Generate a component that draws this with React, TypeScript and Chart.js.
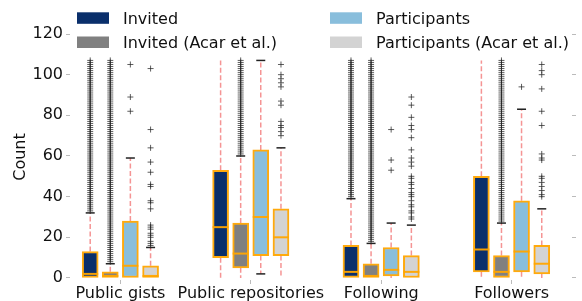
import React, { useEffect, useRef } from 'react';
import { Chart, registerables } from 'chart.js';

Chart.register(...registerables);

const categories = ['Public gists', 'Public repositories', 'Following', 'Followers'];
const seriesNames = ['Invited', 'Invited (Acar et al.)', 'Participants', 'Participants (Acar et al.)'];
const seriesColors = ['#0a2f6b', '#808080', '#89bedc', '#d3d3d3'];
const yTicks = [0, 20, 40, 60, 80, 100, 120];

// Invited
const invitedQ1 = [0, 10, 0, 3];
const invitedMedian = [2, 25, 3, 14];
const invitedQ3 = [13, 53, 16, 50];
const invitedWhiskerLow = [0, 0, 0, 0];
const invitedWhiskerHigh = [32, 107, 39, 107];
const invitedCapHigh = [32, null, 39, null];
const invitedCapLow = [null, null, null, null];
const invitedOutliersGists = [
  33, 34, 35, 36, 37, 38, 39, 40, 41, 42, 43, 44, 45, 46, 47, 48, 49, 50, 51, 52,
  53, 54, 55, 56, 57, 58, 59, 60, 61, 62, 63, 64, 65, 66, 67, 68, 69, 70, 71, 72,
  73, 74, 75, 76, 77, 78, 79, 80, 81, 82, 83, 84, 85, 86, 87, 88, 89, 90, 91, 92,
  93, 94, 95, 96, 97, 98, 99, 100, 101, 102, 103, 104, 105, 106, 107,
];
const invitedOutliersRepos: number[] = [];
const invitedOutliersFollowing = [
  40, 41, 42, 43, 44, 45, 46, 47, 48, 49, 50, 51, 52, 53, 54, 55, 56, 57, 58, 59,
  60, 61, 62, 63, 64, 65, 66, 67, 68, 69, 70, 71, 72, 73, 74, 75, 76, 77, 78, 79,
  80, 81, 82, 83, 84, 85, 86, 87, 88, 89, 90, 91, 92, 93, 94, 95, 96, 97, 98, 99,
  100, 101, 102, 103, 104, 105, 106, 107,
];
const invitedOutliersFollowers: number[] = [];

// Invited (Acar et al.)
const acarInvitedQ1 = [0, 5, 0, 0];
const acarInvitedMedian = [1, 12, 1, 3];
const acarInvitedQ3 = [3, 27, 7, 11];
const acarInvitedWhiskerLow = [0, 0, 0, 0];
const acarInvitedWhiskerHigh = [7, 60, 17, 27];
const acarInvitedCapHigh = [7, 60, 17, 27];
const acarInvitedCapLow = [null, null, null, null];
const acarInvitedOutliersGists = [
  8, 9, 10, 11, 12, 13, 14, 15, 16, 17, 18, 19, 20, 21, 22, 23, 24, 25, 26, 27,
  28, 29, 30, 31, 32, 33, 34, 35, 36, 37, 38, 39, 40, 41, 42, 43, 44, 45, 46, 47,
  48, 49, 50, 51, 52, 53, 54, 55, 56, 57, 58, 59, 60, 61, 62, 63, 64, 65, 66, 67,
  68, 69, 70, 71, 72, 73, 74, 75, 76, 77, 78, 79, 80, 81, 82, 83, 84, 85, 86, 87,
  88, 89, 90, 91, 92, 93, 94, 95, 96, 97, 98, 99, 100, 101, 102, 103, 104, 105, 106, 107,
];
const acarInvitedOutliersRepos = [
  61, 62, 63, 64, 65, 66, 67, 68, 69, 70, 71, 72, 73, 74, 75, 76, 77, 78, 79, 80,
  81, 82, 83, 84, 85, 86, 87, 88, 89, 90, 91, 92, 93, 94, 95, 96, 97, 98, 99, 100,
  101, 102, 103, 104, 105, 106, 107,
];
const acarInvitedOutliersFollowing = [
  18, 19, 20, 21, 22, 23, 24, 25, 26, 27, 28, 29, 30, 31, 32, 33, 34, 35, 36, 37,
  38, 39, 40, 41, 42, 43, 44, 45, 46, 47, 48, 49, 50, 51, 52, 53, 54, 55, 56, 57,
  58, 59, 60, 61, 62, 63, 64, 65, 66, 67, 68, 69, 70, 71, 72, 73, 74, 75, 76, 77,
  78, 79, 80, 81, 82, 83, 84, 85, 86, 87, 88, 89, 90, 91, 92, 93, 94, 95, 96, 97,
  98, 99, 100, 101, 102, 103, 104, 105, 106, 107,
];
const acarInvitedOutliersFollowers = [
  28, 29, 30, 31, 32, 33, 34, 35, 36, 37, 38, 39, 40, 41, 42, 43, 44, 45, 46, 47,
  48, 49, 50, 51, 52, 53, 54, 55, 56, 57, 58, 59, 60, 61, 62, 63, 64, 65, 66, 67,
  68, 69, 70, 71, 72, 73, 74, 75, 76, 77, 78, 79, 80, 81, 82, 83, 84, 85, 86, 87,
  88, 89, 90, 91, 92, 93, 94, 95, 96, 97, 98, 99, 100, 101, 102, 103, 104, 105, 106, 107,
];

// Participants
const participantsQ1 = [0, 11, 1, 3];
const participantsMedian = [6, 30, 4, 13];
const participantsQ3 = [28, 63, 15, 38];
const participantsWhiskerLow = [0, 2, 0, 0];
const participantsWhiskerHigh = [59, 107, 27, 83];
const participantsCapHigh = [59, 107, 27, 83];
const participantsCapLow = [null, 2, null, null];
const participantsOutliersGists = [82, 89, 105];
const participantsOutliersRepos: number[] = [];
const participantsOutliersFollowing = [53, 58, 73];
const participantsOutliersFollowers = [94];

// Participants (Acar et al.)
const acarParticipantsQ1 = [0, 11, 0, 2];
const acarParticipantsMedian = [1, 20, 3, 7];
const acarParticipantsQ3 = [6, 34, 11, 16];
const acarParticipantsWhiskerLow = [0, 0, 0, 0];
const acarParticipantsWhiskerHigh = [15, 64, 26, 34];
const acarParticipantsCapHigh = [15, 64, 26, 34];
const acarParticipantsCapLow = [null, null, null, null];
const acarParticipantsOutliersGists = [16, 17, 18, 20, 21, 22, 24, 25, 26, 34, 37, 38, 45, 46, 52, 57, 64, 73, 103];
const acarParticipantsOutliersRepos = [70, 72, 74, 75, 77, 85, 87, 94, 96, 98, 100, 105];
const acarParticipantsOutliersFollowing = [
  29, 30, 32, 33, 35, 36, 38, 40, 41, 42, 44, 46, 47, 49, 50, 55, 57, 59, 63, 69, 73, 75, 79, 85, 89,
];
const acarParticipantsOutliersFollowers = [40, 41, 43, 45, 47, 49, 50, 58, 59, 61, 75, 82, 93, 100, 102, 105];

type Box = {
  q1: number[]; med: number[]; q3: number[]; wLo: number[]; wHi: number[];
  capHi: (number | null)[]; capLo: (number | null)[]; outliers: number[][];
};

const series: Box[] = [
  {
    q1: invitedQ1, med: invitedMedian, q3: invitedQ3, wLo: invitedWhiskerLow, wHi: invitedWhiskerHigh,
    capHi: invitedCapHigh, capLo: invitedCapLow,
    outliers: [invitedOutliersGists, invitedOutliersRepos, invitedOutliersFollowing, invitedOutliersFollowers],
  },
  {
    q1: acarInvitedQ1, med: acarInvitedMedian, q3: acarInvitedQ3, wLo: acarInvitedWhiskerLow, wHi: acarInvitedWhiskerHigh,
    capHi: acarInvitedCapHigh, capLo: acarInvitedCapLow,
    outliers: [acarInvitedOutliersGists, acarInvitedOutliersRepos, acarInvitedOutliersFollowing, acarInvitedOutliersFollowers],
  },
  {
    q1: participantsQ1, med: participantsMedian, q3: participantsQ3, wLo: participantsWhiskerLow, wHi: participantsWhiskerHigh,
    capHi: participantsCapHigh, capLo: participantsCapLow,
    outliers: [participantsOutliersGists, participantsOutliersRepos, participantsOutliersFollowing, participantsOutliersFollowers],
  },
  {
    q1: acarParticipantsQ1, med: acarParticipantsMedian, q3: acarParticipantsQ3, wLo: acarParticipantsWhiskerLow, wHi: acarParticipantsWhiskerHigh,
    capHi: acarParticipantsCapHigh, capLo: acarParticipantsCapLow,
    outliers: [acarParticipantsOutliersGists, acarParticipantsOutliersRepos, acarParticipantsOutliersFollowing, acarParticipantsOutliersFollowers],
  },
];

// layout constants
const OFFSETS = [-0.232, -0.078, 0.076, 0.231];
const BOX_EDGE = 'rgba(255,165,0,0.95)';
const LEGEND_X = [77, 330];
const LEGEND_Y = [12.3, 36.5];

const legendPlugin = {
  id: 'boxLegend',
  afterDraw(chart: any) {
    const ctx = chart.ctx;
    ctx.save();
    ctx.font = '16px "DejaVu Sans", sans-serif';
    ctx.textBaseline = 'alphabetic';
    ctx.textAlign = 'left';
    seriesNames.forEach((name, i) => {
      const col = Math.floor(i / 2);
      const row = i % 2;
      const x = LEGEND_X[col];
      const y = LEGEND_Y[row];
      ctx.fillStyle = seriesColors[i];
      ctx.fillRect(x, y, 32, 11.5);
      ctx.fillStyle = '#111';
      ctx.fillText(name, x + 46, y + 11.7);
    });
    ctx.restore();
  },
};

export default function App() {
  const canvasRef = useRef<HTMLCanvasElement | null>(null);

  useEffect(() => {
    if (!canvasRef.current) return;
    Chart.defaults.font.family = '"DejaVu Sans", sans-serif';
    Chart.defaults.font.size = 16;

    const datasets: any[] = [];
    series.forEach((s, si) => {
      const pos = (ci: number) => ci + 1 + OFFSETS[si];
      datasets.push({
        type: 'bar',
        label: seriesNames[si],
        data: categories.map((_, ci) => ({ x: pos(ci), y: [s.q1[ci], s.q3[ci]] })),
        backgroundColor: seriesColors[si],
        borderColor: BOX_EDGE,
        borderWidth: 2,
        borderSkipped: false,
        barThickness: 16,
        grouped: false,
        order: 3,
      });
      const wdata: any[] = [];
      categories.forEach((_, ci) => {
        if (s.wHi[ci] > s.q3[ci]) {
          wdata.push({ x: pos(ci), y: s.q3[ci] }, { x: pos(ci), y: s.wHi[ci] }, { x: pos(ci), y: null });
        }
        if (s.wLo[ci] < s.q1[ci]) {
          wdata.push({ x: pos(ci), y: s.q1[ci] }, { x: pos(ci), y: s.wLo[ci] }, { x: pos(ci), y: null });
        }
      });
      datasets.push({
        type: 'line',
        data: wdata,
        borderColor: 'rgba(240,90,90,0.65)',
        borderWidth: 1.5,
        borderDash: [5, 2.5],
        pointRadius: 0,
        spanGaps: false,
        fill: false,
        tension: 0,
        order: 4,
      });
      const cdata: any[] = [];
      categories.forEach((_, ci) => {
        if (s.capHi[ci] != null) cdata.push({ x: pos(ci), y: s.capHi[ci] });
        if (s.capLo[ci] != null) cdata.push({ x: pos(ci), y: s.capLo[ci] });
      });
      datasets.push({
        type: 'scatter',
        data: cdata,
        pointStyle: 'line',
        pointRadius: 4.5,
        borderColor: '#222',
        backgroundColor: '#222',
        borderWidth: 1.5,
        order: 2,
      });
      datasets.push({
        type: 'scatter',
        data: categories.map((_, ci) => ({ x: pos(ci), y: s.med[ci] })),
        pointStyle: 'line',
        pointRadius: 8,
        borderColor: BOX_EDGE,
        backgroundColor: BOX_EDGE,
        borderWidth: 2,
        order: 1,
      });
      const odata: any[] = [];
      s.outliers.forEach((arr, ci) => arr.forEach((v) => odata.push({ x: pos(ci), y: v })));
      datasets.push({
        type: 'scatter',
        data: odata,
        pointStyle: 'cross',
        pointRadius: 3,
        borderColor: 'rgba(40,40,40,0.75)',
        backgroundColor: 'rgba(40,40,40,0.75)',
        borderWidth: 1,
        order: 2,
      });
    });

    const tickGrid = { drawOnChartArea: false, drawTicks: true, tickLength: 4, tickColor: '#bbbbbb', offset: false };

    const chart = new Chart(canvasRef.current, {
      type: 'bar',
      data: { datasets },
      options: {
        responsive: false,
        animation: false,
        events: [],
        layout: { padding: { top: 34, left: 0, right: 0, bottom: 0 } },
        plugins: { legend: { display: false }, tooltip: { enabled: false } },
        scales: {
          x: {
            type: 'linear',
            position: 'bottom',
            min: 0.613,
            max: 4.463,
            offset: false,
            afterBuildTicks: (sc: any) => {
              sc.ticks = categories.map((_, i) => ({ value: i + 1 }));
            },
            afterFit: (sc: any) => {
              sc.height = 21;
            },
            ticks: {
              autoSkip: false,
              maxRotation: 0,
              minRotation: 0,
              padding: 0,
              color: '#111',
              font: { size: 16 },
              callback: (_v: any, i: number) => categories[i],
            },
            grid: tickGrid,
            border: { display: false },
          },
          y: {
            type: 'linear',
            position: 'left',
            min: -1,
            max: 120,
            afterBuildTicks: (sc: any) => {
              sc.ticks = yTicks.map((v) => ({ value: v }));
            },
            afterFit: (sc: any) => {
              sc.width = 70;
            },
            ticks: { padding: 3, color: '#111', font: { size: 16 }, callback: (v: any) => String(v) },
            title: { display: true, text: 'Count', color: '#111', font: { size: 16 }, padding: { top: 11, bottom: 0 } },
            grid: tickGrid,
            border: { display: false },
          },
          y2: {
            type: 'linear',
            position: 'right',
            min: -1,
            max: 120,
            afterBuildTicks: (sc: any) => {
              sc.ticks = yTicks.map((v) => ({ value: v }));
            },
            afterFit: (sc: any) => {
              sc.width = 5;
            },
            ticks: { display: false },
            grid: tickGrid,
            border: { display: false },
          },
        },
      } as any,
      plugins: [legendPlugin],
    });

    return () => chart.destroy();
  }, []);

  return (
    <div style={{ position: 'fixed', left: 0, top: 0, width: 582, height: 301, background: '#fff' }}>
      <canvas ref={canvasRef} width={582} height={301} style={{ display: 'block' }} />
    </div>
  );
}
